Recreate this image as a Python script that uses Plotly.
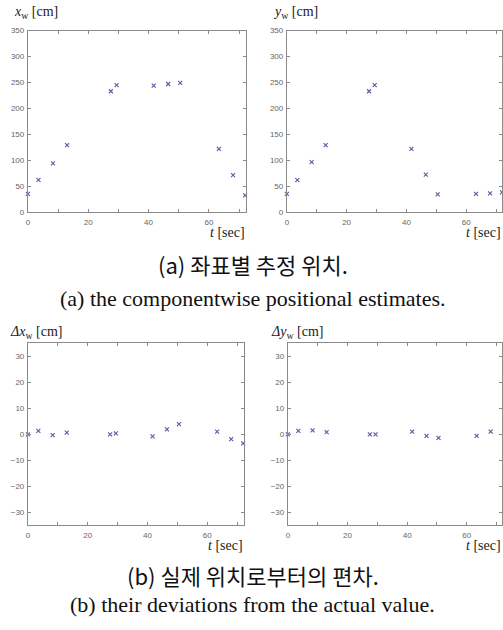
import plotly.graph_objects as go

t = [0, 3.5, 8.3, 13.0, 27.5, 29.4, 41.7, 46.5, 50.5, 63.3, 68.0, 72.0]
xw = [35, 62, 94, 129, 233, 245, 244, 247, 249, 122, 71, 32]
yw = [35, 61.5, 96, 129, 233, 245, 122, 72, 34, 35, 36, 38]
dxw = [0, 1.3, -0.3, 0.6, 0, 0.3, -0.8, 1.9, 3.9, 1.0, -1.9, -3.5]
dyw = [0, 1.3, 1.5, 0.8, 0, 0, 1.0, -0.6, -1.4, -0.6, 1.0, 2.5]

SERIF = "Liberation Serif"
W, H = 503, 630
def px(x): return x / W
def py(y): return 1 - y / H

panels = [
    dict(y=xw, xd=[px(26), px(245)], yd=[py(211), py(27)], xr=[0, 72.3], yr=[0, 350], dt=50,
         ylab="<i>x</i><sub>w</sub> [cm]", lx=10, ly=9, tx=246, ty=232),
    dict(y=yw, xd=[px(286), px(502)], yd=[py(211), py(27)], xr=[0, 72.0], yr=[0, 350], dt=50,
         ylab="<i>y</i><sub>w</sub> [cm]", lx=270, ly=9, tx=503, ty=232),
    dict(y=dxw, xd=[px(26), px(243)], yd=[py(529), py(344)], xr=[0, 72.3], yr=[-35, 35], dt=10,
         ylab="<i>Δx</i><sub>w</sub> [cm]", lx=6, ly=333, tx=244, ty=549),
    dict(y=dyw, xd=[px(287), px(502)], yd=[py(529), py(344)], xr=[0, 71.8], yr=[-35, 35], dt=10,
         ylab="<i>Δy</i><sub>w</sub> [cm]", lx=268, ly=333, tx=503, ty=549),
]

fig = go.Figure()
annotations = []
for i, p in enumerate(panels):
    n = "" if i == 0 else str(i + 1)
    fig.add_trace(go.Scatter(
        x=t, y=p["y"], mode="markers", xaxis="x" + n, yaxis="y" + n,
        marker=dict(symbol="x-thin", size=4, line=dict(width=1.1, color="#5a5aa8")),
        showlegend=False, cliponaxis=False))
    axcommon = dict(showline=True, linecolor="#8a8a8a", linewidth=1, mirror="allticks",
                    ticks="inside", ticklen=3, tickcolor="#8a8a8a", showgrid=False,
                    zeroline=False, tickfont=dict(family="Liberation Sans", size=8, color="#666666"))
    fig.update_layout(**{
        "xaxis" + n: dict(domain=p["xd"], range=p["xr"], anchor="y" + n, dtick=20, tick0=0,
                          minor=dict(dtick=10, ticks="inside", ticklen=3, tickcolor="#8a8a8a"),
                          ticklabelstandoff=2, **axcommon),
        "yaxis" + n: dict(domain=p["yd"], range=p["yr"], anchor="x" + n, dtick=p["dt"], tick0=0,
                          ticklabelstandoff=1, **axcommon),
    })
    annotations.append(dict(text=p["ylab"], x=px(p["lx"]), y=py(p["ly"]), xref="paper", yref="paper",
                            xanchor="left", yanchor="middle", showarrow=False,
                            font=dict(family=SERIF, size=14, color="#222222")))
    annotations.append(dict(text="<i>t</i> [sec]", x=px(p["tx"]), y=py(p["ty"]), xref="paper", yref="paper",
                            xanchor="right", yanchor="middle", showarrow=False,
                            font=dict(family=SERIF, size=14, color="#222222")))

captions = [
    ("(a) 좌표별 추정 위치.", 264, "Noto Sans CJK KR", 22),
    ("(a) the componentwise positional estimates.", 299, SERIF, 22),
    ("(b) 실제 위치로부터의 편차.", 579, "Noto Sans CJK KR", 22),
    ("(b) their deviations from the actual value.", 609, SERIF, 22),
]
for txt, yy, fam, sz in captions:
    annotations.append(dict(text=txt, x=0.5, y=py(yy), xref="paper", yref="paper",
                            xanchor="center", yanchor="middle", showarrow=False,
                            font=dict(family=fam, size=sz, color="#111111")))

fig.update_layout(width=W, height=H, margin=dict(l=0, r=0, t=0, b=0),
                  paper_bgcolor="white", plot_bgcolor="white", annotations=annotations)
fig.write_html("out.html")
